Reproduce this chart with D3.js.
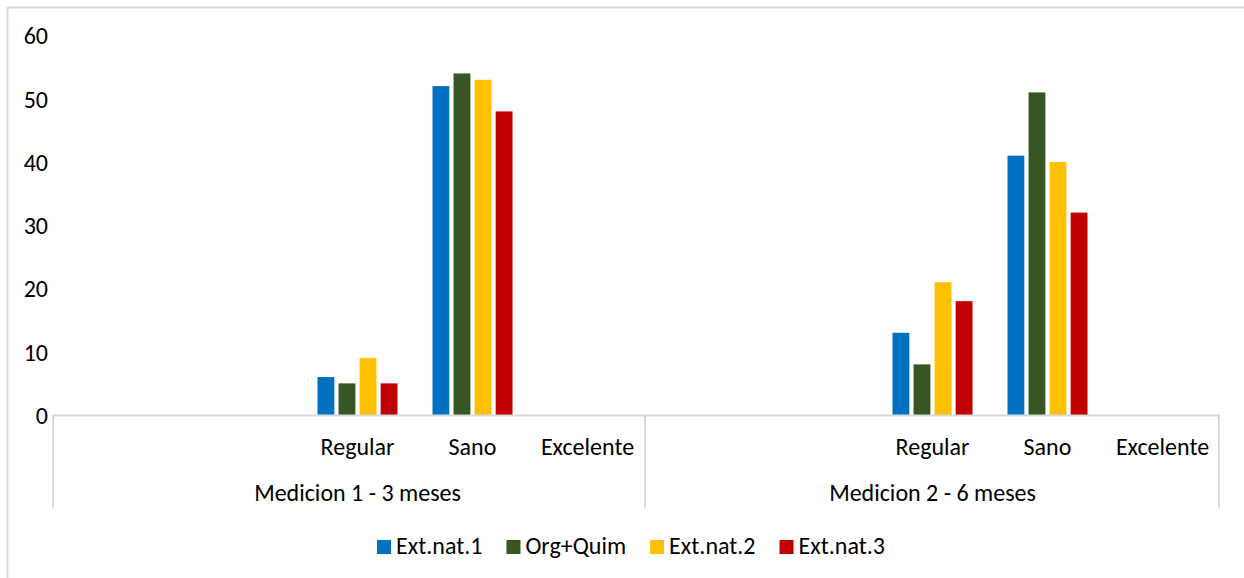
<!DOCTYPE html>
<html>
<head>
<meta charset="utf-8">
<script src="https://cdn.jsdelivr.net/npm/d3@7"></script>
<style>
  body { margin: 0; background: #fff; }
  svg text { font-family: Carlito, Lato, "Open Sans", sans-serif; fill: #000; }
</style>
</head>
<body>
<div id="chart"></div>
<script>
// groups along the x axis, each with the same five categories (first two unlabelled)
var groups = ['Medicion 1 - 3 meses', 'Medicion 2 - 6 meses'];
var categories = ['', '', 'Regular', 'Sano', 'Excelente'];
var seriesNames = ['Ext.nat.1', 'Org+Quim', 'Ext.nat.2', 'Ext.nat.3'];
var seriesColors = ['#0070c0', '#375623', '#ffc000', '#c00000'];

// values per series: one row per group, one entry per category (null = no bar)
var extNat1 = [[null, null, 6, 52, null], [null, null, 13, 41, null]];
var orgQuim = [[null, null, 5, 54, null], [null, null, 8, 51, null]];
var extNat2 = [[null, null, 9, 53, null], [null, null, 21, 40, null]];
var extNat3 = [[null, null, 5, 48, null], [null, null, 18, 32, null]];

var yTicks = [0, 10, 20, 30, 40, 50, 60];

var W = 1244, H = 578;
var plot = {left: 70, right: 1220, top: 35.5, bottom: 415};
var fontSize = '24px';

var svg = d3.select('#chart').append('svg')
  .attr('width', W).attr('height', H);

// outer chart frame
svg.append('rect')
  .attr('x', 7.5).attr('y', 7.5)
  .attr('width', W + 20).attr('height', H + 20)
  .attr('fill', 'none').attr('stroke', '#d9d9d9').attr('stroke-width', 2);

var allSeries = [extNat1, orgQuim, extNat2, extNat3];
var data = [];
groups.forEach(function(g, gi) {
  categories.forEach(function(c, ci) {
    allSeries.forEach(function(s, si) {
      if (s[gi][ci] != null) data.push({g: gi, c: ci, s: si, v: s[gi][ci]});
    });
  });
});

var xGroup = d3.scaleBand().domain(d3.range(groups.length)).range([plot.left, plot.right]);
var xCat = d3.scaleBand().domain(d3.range(categories.length)).range([0, xGroup.bandwidth()]);
var xSeries = d3.scaleBand().domain(d3.range(seriesNames.length))
  .range([17.5, xCat.bandwidth() - 17.5]).paddingInner(0.2);
var y = d3.scaleLinear().domain([0, 60]).range([plot.bottom, plot.top]);

// y axis labels only
var yAxis = svg.append('g')
  .attr('transform', 'translate(53,0)')
  .call(d3.axisLeft(y).tickValues(yTicks).tickSize(0).tickPadding(5));
yAxis.select('.domain').remove();
yAxis.selectAll('text').style('font-size', fontSize).attr('dy', '0.35em')
  .style('font-family', 'Carlito, Lato, "Open Sans", sans-serif').attr('fill', '#000');

// bars
svg.append('g').selectAll('rect')
  .data(data)
  .enter().append('rect')
  .attr('x', function(d) { return xGroup(d.g) + xCat(d.c) + xSeries(d.s); })
  .attr('y', function(d) { return y(d.v); })
  .attr('width', xSeries.bandwidth())
  .attr('height', function(d) { return y(0) - y(d.v); })
  .attr('fill', function(d) { return seriesColors[d.s]; });

// multi-level category axis
var axisColor = '#d9d9d9';
var axisBottom = 508;
svg.append('line')
  .attr('x1', 53).attr('x2', plot.right).attr('y1', plot.bottom + 0.5).attr('y2', plot.bottom + 0.5)
  .attr('stroke', axisColor).attr('stroke-width', 2);
var seps = [53, xGroup(1), plot.right - 1];
svg.selectAll('.sep').data(seps).enter().append('line')
  .attr('class', 'sep')
  .attr('x1', function(d) { return d; }).attr('x2', function(d) { return d; })
  .attr('y1', plot.bottom).attr('y2', axisBottom)
  .attr('stroke', axisColor).attr('stroke-width', 2);

groups.forEach(function(g, gi) {
  svg.append('g').selectAll('text')
    .data(categories)
    .enter().append('text')
    .attr('x', function(d, ci) { return xGroup(gi) + xCat(ci) + xCat.bandwidth() / 2; })
    .attr('y', 455)
    .attr('text-anchor', 'middle')
    .style('font-size', fontSize)
    .text(function(d) { return d; });
  svg.append('text')
    .attr('x', xGroup(gi) + xGroup.bandwidth() / 2)
    .attr('y', 501)
    .attr('text-anchor', 'middle')
    .style('font-size', fontSize)
    .text(g);
});

// legend
var legend = svg.append('g');
var items = legend.selectAll('g').data(seriesNames).enter().append('g');
items.append('rect')
  .attr('width', 14).attr('height', 14).attr('y', 540)
  .attr('fill', function(d, i) { return seriesColors[i]; });
items.append('text')
  .attr('x', 19).attr('y', 554)
  .style('font-size', fontSize)
  .text(function(d) { return d; });
var xOff = 0;
items.each(function() {
  d3.select(this).attr('transform', 'translate(' + xOff + ',0)');
  xOff += 19 + d3.select(this).select('text').node().getComputedTextLength() + 24;
});
legend.attr('transform', 'translate(' + (631 - (xOff - 24) / 2) + ',0)');
</script>
</body>
</html>
